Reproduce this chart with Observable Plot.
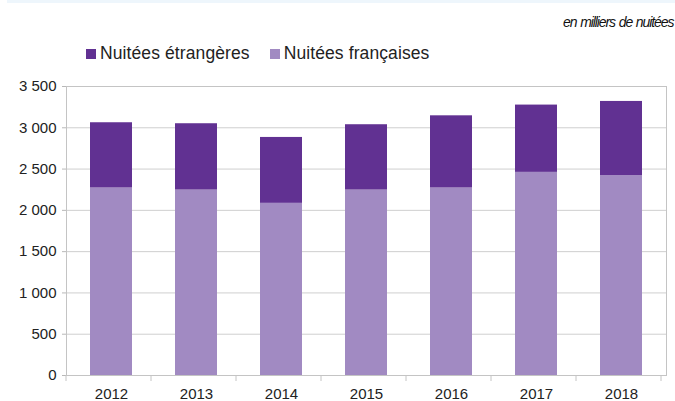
<!DOCTYPE html>
<html>
<head>
<meta charset="utf-8">
<script src="https://cdn.jsdelivr.net/npm/d3@7"></script>
<script src="https://cdn.jsdelivr.net/npm/@observablehq/plot@0.6"></script>
<style>
  html, body { margin: 0; padding: 0; background: #fff; width: 675px; height: 401px; overflow: hidden; }
  #wrap { position: relative; width: 675px; height: 401px; font-family: "Liberation Sans", Arial, sans-serif; color: #222; overflow: hidden; }
  #strip { position: absolute; left: 7px; top: 0; width: 668px; height: 3px; background: #eef6fc; }
  #note { position: absolute; left: 563px; top: 14px; font-family: "Liberation Sans Narrow", "Liberation Sans", sans-serif; font-style: italic; font-size: 14px; letter-spacing: -1.1px; word-spacing: 1px; white-space: nowrap; color: #111; }
  #legend { position: absolute; left: 86px; top: 43px; font-size: 17.5px; letter-spacing: 0.1px; display: flex; align-items: center; white-space: nowrap; }
  .sw { display: inline-block; width: 10px; height: 10px; margin-right: 4px; }
  .item { display: flex; align-items: center; margin-right: 20px; }
  #chart { position: absolute; left: 0; top: 70px; }
</style>
</head>
<body>
<div id="wrap">
  <div id="strip"></div>
  <div id="note">en milliers de nuitées</div>
  <div id="legend"></div>
  <div id="chart"></div>
</div>
<script>
const years = ["2012", "2013", "2014", "2015", "2016", "2017", "2018"];
const francaises = [2271, 2246, 2085, 2246, 2271, 2460, 2420];
const etrangeres = [790, 803, 798, 791, 874, 815, 899];
const seriesNames = ["Nuitées étrangères", "Nuitées françaises"];
const seriesColors = ["#613192", "#a18ac2"];
const yTicks = [0, 500, 1000, 1500, 2000, 2500, 3000, 3500];

// legend
const legend = document.getElementById("legend");
seriesNames.forEach((n, i) => {
  const it = document.createElement("span");
  it.className = "item";
  it.innerHTML = `<span class="sw" style="background:${seriesColors[i]}"></span>${n}`;
  legend.appendChild(it);
});

// table: françaises first so they stack at the bottom
const rows = [];
years.forEach((y, i) => rows.push({year: y, serie: seriesNames[1], value: francaises[i]}));
years.forEach((y, i) => rows.push({year: y, serie: seriesNames[0], value: etrangeres[i]}));

const fmt = d => d3.format(",")(d).replace(/,/g, " ");

const plot = Plot.plot({
  width: 675,
  height: 331,
  marginTop: 16,
  marginBottom: 26,
  marginLeft: 66,
  marginRight: 9,
  style: {fontFamily: "Liberation Sans, Arial, sans-serif", fontSize: "15px", color: "#222", background: "transparent"},
  x: {domain: years, paddingInner: 0.51, paddingOuter: 0.255, label: null},
  y: {domain: [0, 3500], label: null},
  color: {domain: seriesNames, range: seriesColors},
  marks: [
    Plot.gridY(yTicks, {stroke: "#cfcfcf", strokeOpacity: 1}),
    Plot.barY(rows, {x: "year", y: "value", fill: "serie", order: seriesNames.slice().reverse()}),
    Plot.frame({stroke: "#c4c4c4"}),
    Plot.axisY(yTicks, {tickFormat: fmt, tickSize: 4, tickPadding: 6, stroke: "#b8b8b8", fill: "#222", label: null}),
    Plot.axisX({tickSize: 0, tickPadding: 13, fill: "#222", label: null})
  ]
});
document.getElementById("chart").appendChild(plot);

// category separator ticks below the x axis, from the band scale
const xs = plot.scale("x");
const ys = plot.scale("y");
const step = xs.step;
const x0 = xs.range[0];
const yBase = ys.apply(0);
const svg = d3.select(plot.tagName.toLowerCase() === "svg" ? plot : plot.querySelector("svg"));
const g = svg.append("g").attr("stroke", "#c4c4c4");
for (let i = 0; i <= years.length; i++) {
  const xv = x0 + i * step;
  g.append("line").attr("x1", xv).attr("x2", xv).attr("y1", yBase).attr("y2", yBase + 6);
}
</script>
</body>
</html>
